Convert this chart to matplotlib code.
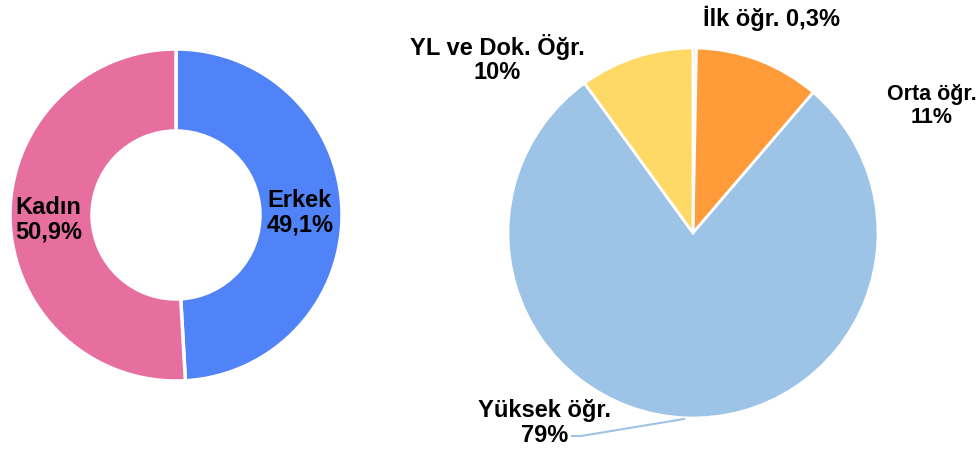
import matplotlib
matplotlib.use("Agg")
import matplotlib.pyplot as plt

plt.rcParams['font.family'] = ['Liberation Sans', 'DejaVu Sans']

# Gender donut
gender_labels = ["Erkek", "Kadın"]
gender_values = [49.1, 50.9]
gender_text = ["49,1%", "50,9%"]
gender_colors = ["#5082F8", "#E76FA0"]

# Education pie (clockwise from top)
edu_labels = ["İlk öğr.", "Orta öğr.", "Yüksek öğr.", "YL ve Dok. Öğr."]
edu_values = [0.3, 11, 79, 10]
edu_text = ["0,3%", "11%", "79%", "10%"]
edu_colors = ["#BFBFBF", "#FF9B38", "#9DC3E6", "#FFD966"]

W, H = 979, 456
fig = plt.figure(figsize=(W / 100, H / 100), dpi=100)
ax = fig.add_axes([0, 0, 1, 1])

def Y(y):
    return H - y

ax.pie(gender_values, colors=gender_colors, startangle=90, counterclock=False,
       radius=166, center=(176, Y(216)),
       wedgeprops=dict(width=82, edgecolor='white', linewidth=2.5))
ax.pie(edu_values, colors=edu_colors, startangle=90, counterclock=False,
       radius=185, center=(693, Y(234)),
       wedgeprops=dict(edgecolor='white', linewidth=2))
ax.set_xlim(0, W)
ax.set_ylim(0, H)
ax.set_aspect('equal')
ax.axis('off')

tk = dict(fontsize=17, fontweight='bold', ha='center', va='center', color='black',
          linespacing=1.08)
ax.text(300, Y(213), f"{gender_labels[0]}\n{gender_text[0]}", **tk)
ax.text(48.5, Y(220), f"{gender_labels[1]}\n{gender_text[1]}", **tk)

ax.text(772, Y(18), f"{edu_labels[0]} {edu_text[0]}", **tk)
tk_small = dict(tk, fontsize=15.5)
ax.text(932, Y(106), f"{edu_labels[1]}\n{edu_text[1]}", **tk_small)
ax.text(545, Y(423), f"{edu_labels[2]}\n{edu_text[2]}", **tk)
ax.text(497, Y(59), f"{edu_labels[3]}\n{edu_text[3]}", **tk)

ax.plot([572, 581, 684], [Y(437), Y(437), Y(420)], color="#9DC3E6", linewidth=1.5)

fig.savefig("out.png", dpi=100)
